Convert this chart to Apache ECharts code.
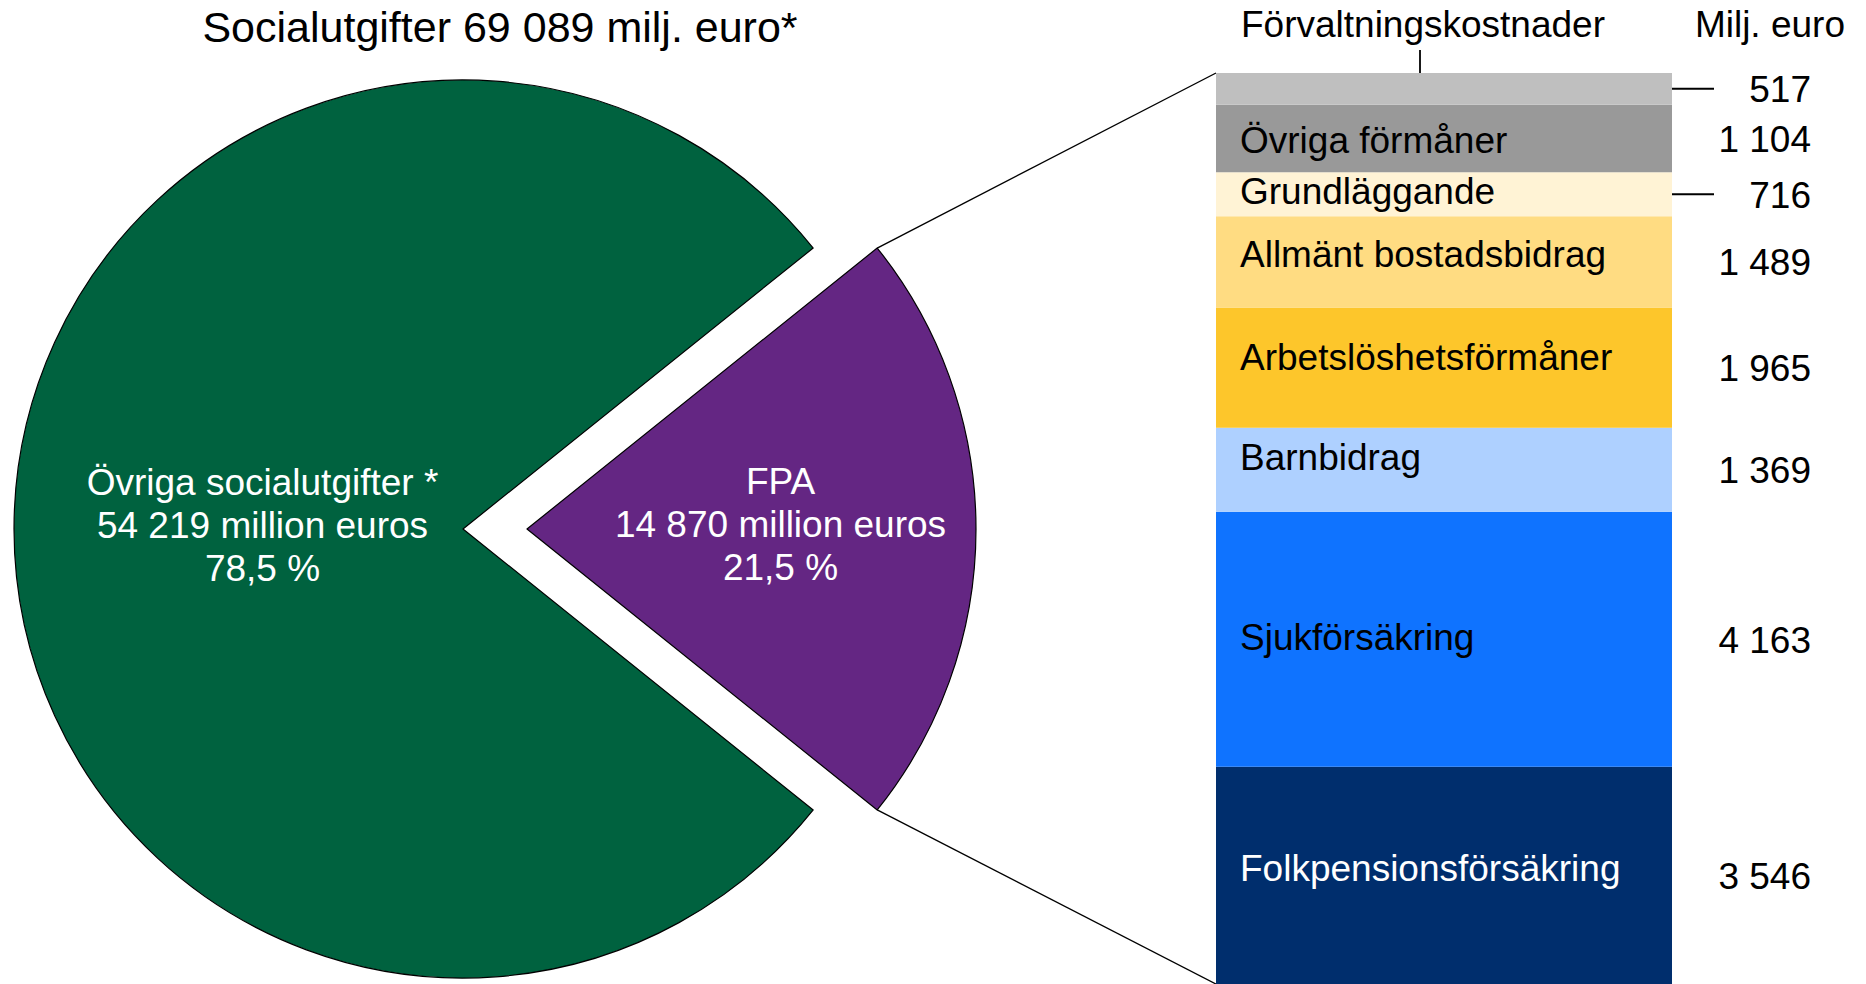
<!DOCTYPE html>
<html>
<head>
<meta charset="utf-8">
<script src="https://cdn.jsdelivr.net/npm/echarts@6/dist/echarts.min.js"></script>
<style>
  html, body { margin: 0; padding: 0; background: #fff; }
  #main { width: 1866px; height: 984px; }
</style>
</head>
<body>
<div id="main"></div>
<script>
// pie: FPA against the rest of social spending (milj. euro)
const pieNames = ['FPA', 'Övriga socialutgifter *'];
const pieValues = [14870, 54219];
const pieColors = ['#642683', '#00623f'];

// FPA split, listed top to bottom as in the bar
const barNames = ['Förvaltningskostnader', 'Övriga förmåner', 'Grundläggande', 'Allmänt bostadsbidrag',
  'Arbetslöshetsförmåner', 'Barnbidrag', 'Sjukförsäkring', 'Folkpensionsförsäkring'];
const barValues = [517, 1104, 716, 1489, 1965, 1369, 4163, 3546];
const barColors = ['#bfbfbf', '#999999', '#fff3d5', '#ffdc82', '#fdc62b', '#aed0ff', '#0f73ff', '#002e6d'];
const nameColors = ['#000', '#000', '#000', '#000', '#000', '#000', '#000', '#fff'];
const withLeader = ['Förvaltningskostnader', 'Grundläggande'];

const FONT = '"Liberation Sans", Arial, sans-serif';
const fmt = n => String(n).replace(/\B(?=(\d{3})+(?!\d))/g, ' ');

// layout
const pieCenter = [463, 529], pieR = 449, pieOffset = 64;
const gridLeft = 1216, gridTop = 73, gridWidth = 456;
const nameNudge = [0, 2, -3, -7, -10, -12, -2, -7]; // names sit a bit above centre in the original
const pieLabelShift = [[26, -5], [27, -4]];

const pieTotal = pieValues.reduce((a, b) => a + b, 0);
const barTotal = barValues.reduce((a, b) => a + b, 0);
const halfAngle = pieValues[0] / pieTotal * 180;

const chart = echarts.init(document.getElementById('main'), null, { renderer: 'svg' });

// stack from the bottom up
const barSeries = [];
for (let i = barNames.length - 1; i >= 0; i--) {
  barSeries.push({
    type: 'bar',
    name: barNames[i],
    stack: 'fpa',
    barWidth: '100%',
    data: [barValues[i]],
    itemStyle: { color: barColors[i] },
    emphasis: { disabled: true },
    label: {
      show: i > 0,
      position: 'insideLeft',
      distance: 24,
      offset: [0, nameNudge[i]],
      color: nameColors[i],
      fontSize: 37,
      fontFamily: FONT,
      formatter: barNames[i]
    }
  });
}

const pieSeries = {
  type: 'pie',
  center: pieCenter,
  radius: pieR,
  startAngle: halfAngle,
  clockwise: true,
  selectedMode: 'single',
  selectedOffset: pieOffset,
  avoidLabelOverlap: false,
  emphasis: { disabled: true },
  itemStyle: { borderColor: '#000', borderWidth: 1.2 },
  label: {
    position: 'inside',
    color: '#fff',
    fontSize: 37,
    lineHeight: 43,
    fontFamily: FONT,
    formatter: p => p.name + '\n' + fmt(p.value) + ' million euros\n' +
      (p.value / pieTotal * 100).toFixed(1).replace('.', ',') + ' %'
  },
  labelLayout: p => ({ dx: pieLabelShift[p.dataIndex][0], dy: pieLabelShift[p.dataIndex][1] }),
  data: pieNames.map((n, i) => ({
    name: n, value: pieValues[i], selected: i === 0, itemStyle: { color: pieColors[i] }
  }))
};

// bars first, so the scale is there for the annotations
chart.setOption({
  animation: false,
  grid: { left: gridLeft, top: gridTop, width: gridWidth, bottom: 0 },
  xAxis: { type: 'category', data: ['FPA'], show: false },
  yAxis: { type: 'value', min: 0, max: barTotal, show: false },
  series: barSeries
});

// annotations placed from the bar scale and the pie geometry
const rightX = gridLeft + gridWidth;
const barBottom = chart.convertToPixel({ gridIndex: 0 }, [0, 0])[1];
const barTopY = chart.convertToPixel({ gridIndex: 0 }, [0, barTotal])[1];
const txt = (x, y, text, align) => ({
  type: 'text', x: x, y: y, silent: true,
  style: { text: text, fill: '#000', font: '37px ' + FONT, textAlign: align, textVerticalAlign: 'middle' }
});
const line = (x1, y1, x2, y2, w) => ({
  type: 'line', silent: true,
  shape: { x1: x1, y1: y1, x2: x2, y2: y2 },
  style: { stroke: '#000', lineWidth: w || 1.4 }
});

const graphics = [];
let below = barTotal;
barNames.forEach((n, i) => {
  below -= barValues[i];
  const yc = chart.convertToPixel({ gridIndex: 0 }, [0, below + barValues[i] / 2])[1];
  graphics.push(txt(rightX + 139, yc + 1, fmt(barValues[i]), 'right'));
  if (withLeader.indexOf(n) >= 0) graphics.push(line(rightX, yc, rightX + 42, yc, 2));
});
graphics.push(txt(rightX + 173, barTopY - 49, 'Milj. euro', 'right'));
graphics.push(txt(gridLeft + 207, barTopY - 49, barNames[0], 'center'));
graphics.push(line(gridLeft + 204, barTopY - 23, gridLeft + 204, barTopY + 10, 1.8));

// connectors from the FPA slice corners to the bar corners
const rad = halfAngle * Math.PI / 180;
const px = pieCenter[0] + pieOffset + pieR * Math.cos(rad);
graphics.push(line(px, pieCenter[1] - pieR * Math.sin(rad), gridLeft, barTopY));
graphics.push(line(px, pieCenter[1] + pieR * Math.sin(rad), gridLeft, barBottom));

chart.setOption({
  title: {
    text: 'Socialutgifter ' + fmt(pieTotal) + ' milj. euro*',
    left: 500,
    top: 5,
    padding: 0,
    textAlign: 'center',
    textStyle: { fontSize: 43, fontWeight: 'normal', color: '#000', fontFamily: FONT }
  },
  series: barSeries.concat([pieSeries]),
  graphic: graphics
});
</script>
</body>
</html>
